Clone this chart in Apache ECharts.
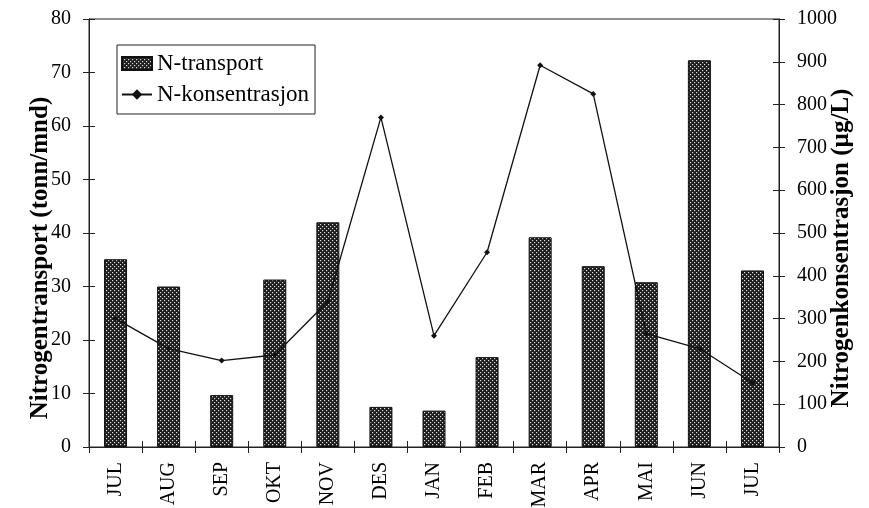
<!DOCTYPE html>
<html>
<head>
<meta charset="utf-8">
<script src="https://cdn.jsdelivr.net/npm/echarts@6/dist/echarts.min.js"></script>
<style>
  html, body { margin: 0; padding: 0; background: #fff; }
  #chart { width: 869px; height: 508px; }
</style>
</head>
<body>
<div id="chart"></div>
<script>
  let months = ['JUL', 'AUG', 'SEP', 'OKT', 'NOV', 'DES', 'JAN', 'FEB', 'MAR', 'APR', 'MAI', 'JUN', 'JUL'];
  let transport = [35.1, 30, 9.7, 31.3, 42, 7.5, 6.8, 16.8, 39.2, 33.8, 30.8, 72.3, 33];
  let konsentrasjon = [300, 230, 202, 215, 340, 770, 260, 455, 892, 825, 265, 230, 150];
  let leftTicks = [0, 80, 10];
  let rightTicks = [0, 1000, 100];

  // dotted fill like the print screen
  let pat = document.createElement('canvas');
  pat.width = 4; pat.height = 4;
  let ctx = pat.getContext('2d');
  ctx.fillStyle = '#1c1c1c';
  ctx.fillRect(0, 0, 4, 4);
  ctx.fillStyle = '#e0e0e0';
  ctx.fillRect(0, 0, 1.2, 1.2);
  ctx.fillRect(2, 2, 1.2, 1.2);

  let font = 'Liberation Serif';
  let lineStyle = {color: '#222', width: 1};

  let yBase = function (pos, ticks, name, inside) {
    let ax = {
      type: 'value',
      position: pos,
      min: ticks[0], max: ticks[1], interval: ticks[2],
      splitLine: {show: false},
      axisLine: {show: true, lineStyle: lineStyle},
      axisTick: {show: true, inside: inside, length: 6, lineStyle: lineStyle}
    };
    if (inside) {
      ax.axisLabel = {show: false};
    } else {
      ax.name = name;
      ax.nameLocation = 'middle';
      ax.nameMoveOverlap = false;
      ax.nameGap = pos === 'left' ? 36 : 50;
      // titles sit a bit below the middle of the axis
      ax.nameTextStyle = {
        fontFamily: font, fontWeight: 'bold', fontSize: 25, color: '#000',
        padding: pos === 'left' ? [0, 50, 0, 0] : [0, 30, 0, 0]
      };
      ax.axisLabel = {
        fontFamily: font, fontSize: 20, color: '#000', margin: 18,
        formatter: function (v) { return String(v); }
      };
    }
    return ax;
  };

  let myChart = echarts.init(document.getElementById('chart'));
  let option = {
    animation: false,
    grid: {
      left: 89, right: 90, top: 19, bottom: 61,
      outerBoundsMode: 'none',
      show: true, borderColor: '#222', borderWidth: 1
    },
    legend: {
      left: 117, top: 45,
      orient: 'vertical',
      show: true,
      borderColor: '#222', borderWidth: 1,
      padding: [7, 6, 8, 4],
      itemGap: 8,
      itemWidth: 30, itemHeight: 13,
      textStyle: {fontFamily: font, fontSize: 23, color: '#000'},
      data: [
        {name: 'N-transport', icon: 'rect'},
        {name: 'N-konsentrasjon'}
      ]
    },
    xAxis: [
      {
        type: 'category',
        data: months,
        position: 'bottom',
        axisLine: {show: true, lineStyle: lineStyle},
        axisTick: {show: true, length: 6, lineStyle: lineStyle},
        axisLabel: {rotate: 90, fontFamily: font, fontSize: 20, color: '#000', margin: 15}
      },
      {
        type: 'category',
        data: months,
        position: 'bottom',
        axisLine: {show: false},
        axisTick: {show: true, inside: true, length: 6, lineStyle: lineStyle},
        axisLabel: {show: false}
      }
    ],
    yAxis: [
      yBase('left', leftTicks, 'Nitrogentransport (tonn/mnd)', false),
      yBase('right', rightTicks, 'Nitrogenkonsentrasjon (µg/L)', false),
      yBase('left', leftTicks, '', true),
      yBase('right', rightTicks, '', true)
    ],
    series: [
      {
        name: 'N-transport',
        type: 'bar',
        xAxisIndex: 0,
        yAxisIndex: 0,
        barWidth: 23,
        data: transport,
        itemStyle: {
          color: {image: pat, repeat: 'repeat'},
          borderColor: '#111',
          borderWidth: 1
        }
      },
      {
        name: 'N-konsentrasjon',
        type: 'line',
        xAxisIndex: 0,
        yAxisIndex: 1,
        data: konsentrasjon,
        symbol: 'diamond',
        symbolSize: 6,
        lineStyle: {color: '#111', width: 1.3},
        itemStyle: {color: '#111'}
      }
    ]
  };
  myChart.setOption(option);
</script>
</body>
</html>
